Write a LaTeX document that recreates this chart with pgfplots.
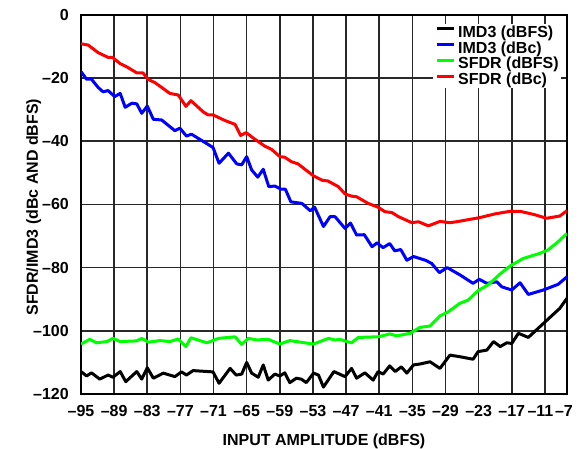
\documentclass[border=0pt]{standalone}
\usepackage{pgfplots}
\pgfplotsset{compat=1.18}
\usepackage{fontspec}
\setmainfont{Liberation Sans}
\newcommand{\m}{\textendash}
\definecolor{gridc}{RGB}{40,40,40}
\begin{document}
\begin{tikzpicture}
\begin{axis}[
  at={(0,0)}, anchor=south west,
  scale only axis, width=486pt, height=379.3pt,
  xmin=-95, xmax=-7, ymin=-120, ymax=0,
  xtick={-95,-89,-83,-77,-71,-65,-59,-53,-47,-41,-35,-29,-23,-17,-11,-7},
  xticklabels={\m95,\m89,\m83,\m77,\m71,\m65,\m59,\m53,\m47,\m41,\m35,\m29,\m23,\m17,\m11\rule{9pt}{0pt},\m7\rule{6pt}{0pt}},
  ytick={-120,-100,-80,-60,-40,-20,0},
  yticklabels={\m120,\m100,\m80,\m60,\m40,\m20,0},
  major tick length=0pt,
  grid=major,
  major grid style={gridc, line width=1.6pt},
  axis line style={black, line width=2pt},
  tick label style={font=\fontsize{16}{18}\selectfont\bfseries},
  xticklabel style={anchor=north, inner sep=0pt, yshift=-11pt},
  yticklabel style={anchor=east, inner sep=0pt, xshift=-12pt},
  xlabel={INPUT AMPLITUDE (dBFS)},
  ylabel={SFDR/IMD3 (dBc AND dBFS)},
  label style={font=\fontsize{16}{18}\selectfont\bfseries},
  xlabel style={at={(axis description cs:0.5,-0.1345)}, anchor=base, inner sep=0pt},
  ylabel style={at={(axis description cs:-0.0885,0.4925)}, anchor=base, inner sep=0pt},
  legend style={draw=none, fill=white, font=\fontsize{16}{18}\selectfont\bfseries,
    at={(rel axis cs:0.7243,0.9763)}, anchor=north west, inner sep=2pt,
    row sep=2.6pt, column sep=3pt, nodes={inner sep=0pt}},
  legend cell align=left,
  legend image code/.code={\draw[#1, line width=3pt] (0pt,0.35em) -- (17pt,0.35em);},
  every axis plot/.append style={line width=3pt, line join=round},
]
\addplot[black] coordinates {
(-95,-112.9) (-94,-114.3) (-93.1,-113.3) (-91.6,-115.3) (-90.1,-114.0) (-89.2,-114.7) (-87.9,-112.9) (-86.9,-116.1) (-84.9,-112.9) (-84,-115.3) (-83,-111.7) (-81.9,-115.0) (-80.1,-113.4) (-78,-114.5) (-76.8,-113.0) (-75.9,-114.0) (-74.7,-112.6) (-71.1,-113.0) (-70,-116.6) (-68,-111.9) (-66.9,-114.0) (-65.9,-113.7) (-65,-110.0) (-64.1,-113.4) (-62.9,-114.7) (-62,-110.8) (-61.1,-115.6) (-59.9,-113.7) (-59,-114.3) (-58.1,-113.3) (-57.2,-116.4) (-56,-115.0) (-55.1,-115.3) (-54.2,-116.4) (-52.9,-113.4) (-52,-114.0) (-51.1,-117.8) (-49.2,-112.9) (-47.2,-114.5) (-46,-111.9) (-45.1,-115.0) (-43.6,-113.3) (-42.1,-115.6) (-41.2,-112.9) (-40.3,-113.7) (-39.1,-111.1) (-38.1,-112.9) (-37,-111.4) (-36,-113.4) (-34.8,-110.8) (-33.6,-110.5) (-31.8,-109.8) (-30,-111.9) (-28.2,-107.7) (-26.4,-108.2) (-24,-109.0) (-23.1,-106.6) (-21.5,-106.1) (-20.3,-103.4) (-19.1,-105.0) (-17.9,-103.8) (-17,-104.0) (-15.8,-100.8) (-14,-102.1) (-11.9,-98.7) (-9.8,-95.3) (-8.3,-92.9) (-7,-89.7)
};
\addlegendentry{IMD3 (dBFS)}
\addplot[blue] coordinates {
(-95,-18.0) (-94,-20.4) (-93.1,-20.4) (-91.9,-23.0) (-91,-24.4) (-90.1,-24.0) (-88.9,-25.9) (-87.9,-24.9) (-87,-29.3) (-85.8,-28.0) (-84.9,-28.2) (-84,-31.2) (-83,-28.9) (-81.9,-33.1) (-80.4,-33.3) (-78,-36.7) (-77.1,-35.9) (-75.9,-38.4) (-75,-37.8) (-71.1,-42.0) (-70,-47.0) (-68.3,-43.8) (-66.8,-47.2) (-65.9,-47.5) (-65,-44.9) (-64.1,-49.1) (-63,-51.4) (-62,-48.9) (-61,-54.4) (-59.9,-54.2) (-58.8,-55.2) (-58,-55.2) (-57,-59.2) (-55,-59.7) (-53.5,-62.0) (-52.7,-60.9) (-51.1,-67.0) (-49.9,-63.9) (-49,-63.9) (-47.2,-67.6) (-46.2,-65.9) (-45.1,-69.7) (-43.7,-69.6) (-42.3,-73.4) (-41.4,-72.2) (-40.3,-73.7) (-39.1,-72.4) (-38.2,-74.7) (-37.1,-74.3) (-36,-77.7) (-34.8,-76.5) (-32.6,-77.7) (-31.5,-78.7) (-30.1,-81.6) (-28.7,-80.0) (-26.4,-82.3) (-24,-85.0) (-22.9,-83.7) (-21.5,-85.0) (-19.7,-84.5) (-18.8,-86.1) (-17,-87.1) (-15.5,-84.8) (-14,-88.5) (-11.3,-87.1) (-8.6,-85.3) (-7,-82.9)
};
\addlegendentry{IMD3 (dBc)}
\addplot[color={rgb,255:red,0;green,255;blue,0}] coordinates {
(-95,-104.2) (-93.4,-102.7) (-92.2,-103.8) (-90.3,-103.4) (-89.2,-102.4) (-87.9,-103.4) (-84.9,-103.2) (-84,-102.4) (-82.8,-103.6) (-80.7,-103.1) (-78.9,-103.4) (-77.4,-102.6) (-76,-105.0) (-75.1,-102.2) (-72.2,-103.8) (-70.1,-102.4) (-67.1,-101.9) (-65.9,-104.3) (-64.7,-102.4) (-63.2,-102.9) (-61.1,-102.7) (-59,-104.2) (-57.2,-103.1) (-52.9,-104.2) (-50.2,-102.4) (-49,-102.9) (-48.1,-102.7) (-46.9,-103.4) (-46,-103.8) (-44.8,-102.1) (-41.2,-101.9) (-39.1,-101.0) (-37.8,-101.6) (-35.4,-100.8) (-33.6,-98.9) (-31.8,-98.5) (-30,-95.3) (-28.5,-94.0) (-26.4,-91.3) (-24.9,-90.3) (-23.1,-87.3) (-21.3,-85.5) (-19.1,-82.0) (-17.3,-79.5) (-14.9,-77.1) (-11.9,-75.5) (-10.4,-74.4) (-8.6,-71.8) (-7,-69.2)
};
\addlegendentry{SFDR (dBFS)}
\addplot[red] coordinates {
(-95,-9.2) (-93.7,-9.6) (-91.9,-12.0) (-90.1,-13.5) (-89.3,-13.5) (-87.9,-15.5) (-86.7,-16.5) (-84.9,-18.4) (-83.8,-18.4) (-82.8,-20.5) (-81.6,-21.5) (-78.9,-24.9) (-77.4,-25.4) (-76.0,-29.0) (-75.1,-27.2) (-72.9,-30.7) (-72.0,-31.7) (-71.1,-31.7) (-68.9,-33.5) (-67.1,-34.7) (-66.1,-38.2) (-65.1,-37.3) (-63.6,-39.3) (-61.7,-41.6) (-60.5,-42.6) (-59.0,-44.9) (-58.1,-45.1) (-56.9,-46.5) (-55.7,-47.2) (-52.9,-51.0) (-51.3,-52.4) (-50.3,-52.6) (-48.4,-54.4) (-47.2,-56.7) (-46.0,-57.4) (-45.1,-57.6) (-43.0,-59.7) (-41.2,-60.9) (-40.0,-62.3) (-38.7,-62.6) (-37.5,-63.9) (-35.1,-65.8) (-33.9,-65.5) (-32.1,-66.8) (-30.0,-65.4) (-28.2,-65.8) (-27.0,-65.5) (-22.8,-64.2) (-20,-63) (-17.3,-62.2) (-15.5,-62.2) (-13,-63.2) (-10.7,-64.4) (-8.3,-63.7) (-7,-62.0)
};
\addlegendentry{SFDR (dBc)}
\end{axis}
\pgfresetboundingbox
\path (-81pt,-54pt) rectangle (502pt,394pt);
\end{tikzpicture}
\end{document}
